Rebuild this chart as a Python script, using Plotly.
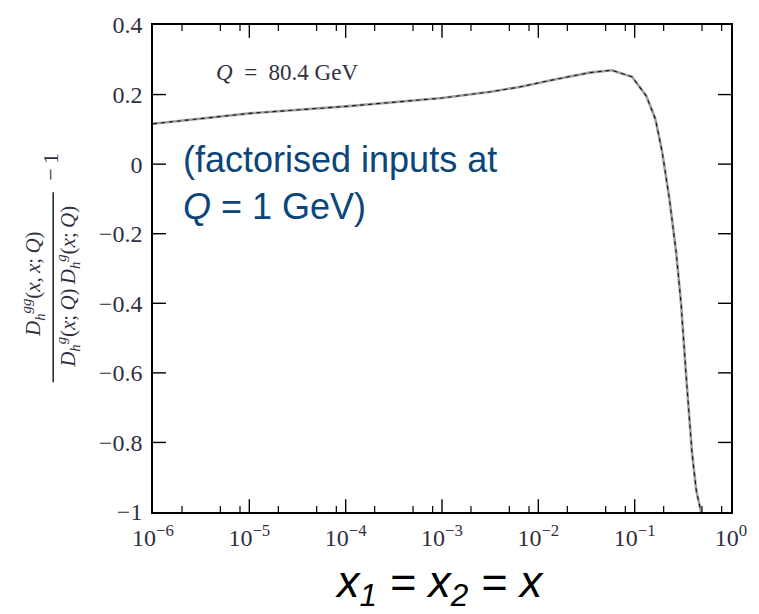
import plotly.graph_objects as go

# ---- data ----
x_vals = [1e-6, 1e-5, 1e-4, 1e-3, 3.2e-3, 6.4e-3, 1.4e-2, 3.4e-2, 5.8e-2,
          9.4e-2, 0.132, 0.164, 0.193, 0.229, 0.27, 0.303, 0.342, 0.394,
          0.436, 0.489]
y_vals = [0.116, 0.146, 0.166, 0.190, 0.208, 0.222, 0.242, 0.263, 0.270,
          0.251, 0.196, 0.130, 0.035, -0.098, -0.255, -0.400, -0.607, -0.830,
          -0.938, -1.000]

x_tickvals = [1e-6, 1e-5, 1e-4, 1e-3, 1e-2, 1e-1, 1e0]
x_ticktext = ["10<sup>−6</sup>", "10<sup>−5</sup>", "10<sup>−4</sup>",
              "10<sup>−3</sup>", "10<sup>−2</sup>", "10<sup>−1</sup>",
              "10<sup>0</sup>"]
x_minor = [m * 10.0 ** e for e in range(-6, 0) for m in (2, 5, 8)]
y_tickvals = [-1, -0.8, -0.6, -0.4, -0.2, 0, 0.2, 0.4]
y_ticktext = ["−1", "−0.8", "−0.6", "−0.4", "−0.2", "0", "0.2", "0.4"]

W, H = 759, 614
L, R, T, B = 153, 27, 17, 102
PW, PH = W - L - R, H - T - B


def px(xp):
    return (xp - L) / PW


def py(yp):
    return (H - B - yp) / PH


serif = "Liberation Serif, Times New Roman, serif"
sans = "Liberation Sans, Arial, sans-serif"
tick_col = "#2f2f3f"

fig = go.Figure()
fig.add_trace(go.Scatter(x=x_vals, y=y_vals, mode="lines",
                         line=dict(color="#a0a0a0", width=2.6),
                         hoverinfo="skip", showlegend=False))
fig.add_trace(go.Scatter(x=x_vals, y=y_vals, mode="lines",
                         line=dict(color="#111111", width=1.1, dash="4px,4px"),
                         showlegend=False))

axis_common = dict(showline=True, linecolor="black", linewidth=1.6,
                   mirror=True, ticks="", showgrid=False, zeroline=False,
                   tickfont=dict(family=serif, size=24, color=tick_col))

fig.update_layout(
    width=W, height=H,
    margin=dict(l=L, r=R, t=T, b=B),
    paper_bgcolor="white", plot_bgcolor="white",
    xaxis=dict(type="log", range=[-6, 0], tickmode="array",
               tickvals=x_tickvals, ticktext=x_ticktext,
               ticklabelstandoff=3, **axis_common),
    yaxis=dict(range=[-1, 0.4], tickmode="array", tickvals=y_tickvals,
               ticktext=y_ticktext, ticklabelstandoff=4, **axis_common),
)

# inward tick marks on all four sides (placed through the axis scales)
MAJ, MIN = 13, 6
tick_line = dict(color="black", width=1.4)
for v in x_tickvals[1:-1]:
    for y0, y1 in ((0, MAJ / PH), (1, 1 - MAJ / PH)):
        fig.add_shape(type="line", xref="x", yref="paper", x0=v, x1=v,
                      y0=y0, y1=y1, line=tick_line, layer="above")
for v in x_minor:
    for y0, y1 in ((0, MIN / PH), (1, 1 - MIN / PH)):
        fig.add_shape(type="line", xref="x", yref="paper", x0=v, x1=v,
                      y0=y0, y1=y1, line=dict(color="black", width=1.2),
                      layer="above")
for v in y_tickvals[1:-1]:
    for x0, x1 in ((0, MAJ / PW), (1, 1 - MAJ / PW)):
        fig.add_shape(type="line", xref="paper", yref="y", x0=x0, x1=x1,
                      y0=v, y1=v, line=tick_line, layer="above")

sp = "\u2009"
annotations = [
    dict(x=px(287), y=py(65), text="<i>Q</i>\u2002=\u200280.4 GeV",
         font=dict(family=serif, size=23, color=tick_col)),
    dict(x=px(181), y=py(178), xanchor="left", align="left",
         text="(factorised inputs at<br><i>Q</i> = 1 GeV)",
         font=dict(family=sans, size=36, color="#0b4579")),
    dict(x=px(440), y=py(586),
         text="<i>x<sub>1</sub> = x<sub>2</sub> = x</i>",
         font=dict(family=sans, size=45, color="black")),
    dict(x=px(33), y=py(280), textangle=-90,
         text="<i>D</i><sub><i>h</i></sub><sup><i>gg</i></sup>(<i>x</i>," + sp
              + "<i>x</i>;" + sp + "<i>Q</i>)",
         font=dict(family=serif, size=21, color=tick_col)),
    dict(x=px(68), y=py(283), textangle=-90,
         text="<i>D</i><sub><i>h</i></sub><sup><i>g</i></sup>(<i>x</i>;" + sp
              + "<i>Q</i>)" + sp
              + "<i>D</i><sub><i>h</i></sub><sup><i>g</i></sup>(<i>x</i>;" + sp
              + "<i>Q</i>)",
         font=dict(family=serif, size=21, color=tick_col)),
    dict(x=px(50), y=py(161), textangle=-90, text="−\u20091",
         font=dict(family=serif, size=22, color=tick_col)),
]
for a in annotations:
    a.setdefault("xref", "paper")
    a.setdefault("yref", "paper")
    a.setdefault("showarrow", False)
    a.setdefault("xanchor", "center")
    a.setdefault("yanchor", "middle")
    fig.add_annotation(**a)

fig.add_shape(type="line", xref="paper", yref="paper",
              x0=px(53), x1=px(53), y0=py(187), y1=py(380),
              line=dict(color="black", width=1.3))

fig.write_html("out.html")
